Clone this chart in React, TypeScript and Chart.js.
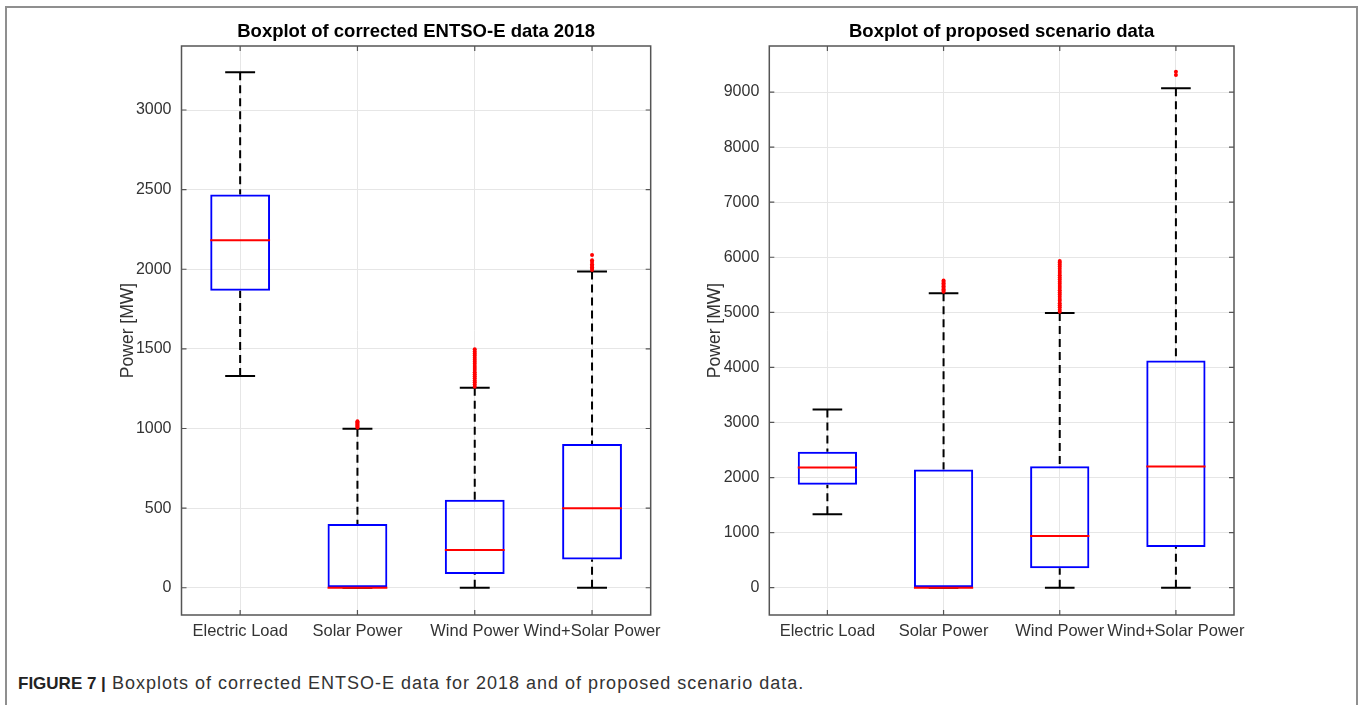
import React, { useEffect, useRef } from 'react';
import { Chart, registerables } from 'chart.js';

Chart.register(...registerables);

const FONT = "'Liberation Sans', Arial, Helvetica, sans-serif";

const categories = ['Electric Load', 'Solar Power', 'Wind Power', 'Wind+Solar Power'];

// ---- Left panel: corrected ENTSO-E data 2018 ----
const title2018 = 'Boxplot of corrected ENTSO-E data 2018';
const lower2018 = [1330, 0, 0, 0];
const q1_2018 = [1865, 0, 86, 178];
const median2018 = [2182, 0, 237, 499];
const q3_2018 = [2470, 400, 553, 902];
const upper2018 = [3237, 999, 1256, 1986];
const solarOutliers2018 = [1006, 1013, 1019, 1026, 1032, 1039, 1045];
const windOutliers2018 = [1263, 1276, 1290, 1302, 1315, 1329, 1341, 1354, 1368, 1380, 1393, 1406, 1420, 1432, 1445, 1459, 1471, 1484, 1497];
const windSolarOutliers2018 = [1996, 2004, 2013, 2022, 2031, 2046, 2057, 2090];
const yTicks2018 = [0, 500, 1000, 1500, 2000, 2500, 3000];
const yRange2018 = [-171, 3402];

// ---- Right panel: proposed scenario data ----
const titleScenario = 'Boxplot of proposed scenario data';
const lowerScenario = [1333, 0, 0, 0];
const q1Scenario = [1867, 0, 351, 740];
const medianScenario = [2182, 0, 940, 2200];
const q3Scenario = [2467, 2145, 2206, 4127];
const upperScenario = [3236, 5345, 4987, 9067];
const solarOutliersScenario = [5372, 5398, 5421, 5447, 5472, 5501, 5529, 5556, 5580];
const windOutliersScenario = [5012, 5048, 5091, 5127, 5166, 5208, 5244, 5283, 5322, 5361, 5402, 5440, 5478, 5519, 5557, 5596, 5634, 5675, 5713, 5752, 5790, 5831, 5868, 5905, 5930];
const windSolarOutliersScenario = [9310, 9370];
const yTicksScenario = [0, 1000, 2000, 3000, 4000, 5000, 6000, 7000, 8000, 9000];
const yRangeScenario = [-496, 9836];

type Stats = { lower: number[]; q1: number[]; median: number[]; q3: number[]; upper: number[] };

function makeBoxPlugin(stats: Stats) {
  return {
    id: 'boxExtras',
    beforeDatasetsDraw(chart: any) {
      const ctx = chart.ctx;
      const y = chart.scales.y;
      const meta = chart.getDatasetMeta(0);
      ctx.save();
      ctx.strokeStyle = '#000000';
      ctx.lineWidth = 2;
      meta.data.forEach((bar: any, i: number) => {
        const x = bar.x;
        const w = bar.width;
        const yq1 = y.getPixelForValue(stats.q1[i]);
        const yq3 = y.getPixelForValue(stats.q3[i]);
        const yLo = y.getPixelForValue(stats.lower[i]);
        const yUp = y.getPixelForValue(stats.upper[i]);
        ctx.setLineDash([8, 5]);
        if (stats.upper[i] > stats.q3[i]) {
          ctx.beginPath();
          ctx.moveTo(x, yUp);
          ctx.lineTo(x, yq3);
          ctx.stroke();
        }
        if (stats.lower[i] < stats.q1[i]) {
          ctx.beginPath();
          ctx.moveTo(x, yLo);
          ctx.lineTo(x, yq1);
          ctx.stroke();
        }
        ctx.setLineDash([]);
        ctx.beginPath();
        ctx.moveTo(x - w / 4, yUp);
        ctx.lineTo(x + w / 4, yUp);
        ctx.moveTo(x - w / 4, yLo);
        ctx.lineTo(x + w / 4, yLo);
        ctx.stroke();
      });
      ctx.restore();
    },
    afterDatasetsDraw(chart: any) {
      const ctx = chart.ctx;
      const y = chart.scales.y;
      const meta = chart.getDatasetMeta(0);
      ctx.save();
      ctx.strokeStyle = '#ff0000';
      ctx.lineWidth = 2;
      meta.data.forEach((bar: any, i: number) => {
        const ym = y.getPixelForValue(stats.median[i]);
        ctx.beginPath();
        ctx.moveTo(bar.x - bar.width / 2, ym);
        ctx.lineTo(bar.x + bar.width / 2, ym);
        ctx.stroke();
      });
      // axes box + inward ticks
      const a = chart.chartArea;
      ctx.strokeStyle = '#555555';
      ctx.lineWidth = 1.5;
      ctx.strokeRect(a.left, a.top, a.right - a.left, a.bottom - a.top);
      ctx.lineWidth = 1.2;
      ctx.beginPath();
      y.ticks.forEach((t: any) => {
        const py = y.getPixelForValue(t.value);
        ctx.moveTo(a.left, py);
        ctx.lineTo(a.left + 5, py);
        ctx.moveTo(a.right, py);
        ctx.lineTo(a.right - 5, py);
      });
      meta.data.forEach((bar: any) => {
        ctx.moveTo(bar.x, a.bottom);
        ctx.lineTo(bar.x, a.bottom - 5);
        ctx.moveTo(bar.x, a.top);
        ctx.lineTo(bar.x, a.top + 5);
      });
      ctx.stroke();
      ctx.restore();
    },
  };
}

type PanelProps = {
  title: string;
  stats: Stats;
  outliers: number[][];
  yTicks: number[];
  yRange: number[];
  left: number;
  yAxisWidth: number;
  padRight: number;
  titlePad: number;
};

function BoxPanel(props: PanelProps) {
  const ref = useRef<HTMLCanvasElement | null>(null);
  useEffect(() => {
    if (!ref.current) return;
    const { stats, outliers } = props;
    const outlierPoints: { x: string; y: number }[] = [];
    outliers.forEach((list, i) => list.forEach((v) => outlierPoints.push({ x: categories[i], y: v })));
    const chart = new Chart(ref.current, {
      type: 'bar',
      data: {
        labels: categories,
        datasets: [
          {
            type: 'bar',
            data: categories.map((_, i) => [stats.q1[i], stats.q3[i]]) as any,
            backgroundColor: 'rgba(0,0,0,0)',
            borderColor: '#0000ff',
            borderWidth: 2,
            borderSkipped: false,
            barPercentage: 0.51,
            categoryPercentage: 1,
            order: 2,
          } as any,
          {
            type: 'line',
            data: outlierPoints as any,
            showLine: false,
            pointRadius: 2,
            pointBackgroundColor: '#ff0000',
            pointBorderWidth: 0,
            pointBorderColor: '#ff0000',
            order: 1,
          } as any,
        ],
      },
      options: {
        responsive: false,
        maintainAspectRatio: false,
        animation: false,
        events: [],
        layout: { padding: { left: 0, right: props.padRight, top: 0, bottom: 0 } },
        plugins: {
          legend: { display: false },
          tooltip: { enabled: false },
          title: {
            display: true,
            text: props.title,
            color: '#000000',
            font: { family: FONT, size: 18.5, weight: 'bold' },
            padding: { top: 21, bottom: 2.8 },
            fullSize: false,
          },
        },
        scales: {
          x: {
            type: 'category',
            offset: true,
            grid: { offset: false, color: '#e6e6e6', drawTicks: false },
            border: { display: false },
            ticks: { color: '#333333', font: { family: FONT, size: 16.5 }, padding: 7, maxRotation: 0, autoSkip: false },
            afterFit: (s: any) => {
              s.height = 45;
            },
          },
          y: {
            type: 'linear',
            min: props.yRange[0],
            max: props.yRange[1],
            grid: { color: '#e6e6e6', drawTicks: false },
            border: { display: false },
            ticks: {
              color: '#333333',
              font: { family: FONT, size: 16 },
              padding: 10,
              callback: (v: any) => String(v),
            },
            afterBuildTicks: (s: any) => {
              s.ticks = props.yTicks.map((v) => ({ value: v }));
            },
            title: {
              display: true,
              text: 'Power [MW]',
              color: '#333333',
              font: { family: FONT, size: 17.5 },
              padding: { top: props.titlePad, bottom: 0 },
            },
            afterFit: (s: any) => {
              s.width = props.yAxisWidth;
            },
          },
        },
      } as any,
      plugins: [makeBoxPlugin(stats)],
    });
    return () => chart.destroy();
  }, []);
  return (
    <canvas
      ref={ref}
      width={570}
      height={660}
      style={{ position: 'absolute', left: props.left, top: 0, width: 570, height: 660 }}
    />
  );
}

export default function App() {
  return (
    <div style={{ position: 'fixed', left: 0, top: 0, width: 1362, height: 705, background: '#ffffff', overflow: 'hidden' }}>
      <div
        style={{
          position: 'absolute',
          left: 5,
          top: 6,
          width: 1349,
          height: 720,
          border: '2px solid #8f8f8f',
        }}
      />
      <BoxPanel
        title={title2018}
        stats={{ lower: lower2018, q1: q1_2018, median: median2018, q3: q3_2018, upper: upper2018 }}
        outliers={[[], solarOutliers2018, windOutliers2018, windSolarOutliers2018]}
        yTicks={yTicks2018}
        yRange={yRange2018}
        left={100}
        yAxisWidth={81.5}
        padRight={19}
        titlePad={18}
      />
      <BoxPanel
        title={titleScenario}
        stats={{ lower: lowerScenario, q1: q1Scenario, median: medianScenario, q3: q3Scenario, upper: upperScenario }}
        outliers={[[], solarOutliersScenario, windOutliersScenario, windSolarOutliersScenario]}
        yTicks={yTicksScenario}
        yRange={yRangeScenario}
        left={690}
        yAxisWidth={79.3}
        padRight={26}
        titlePad={15}
      />
      <div
        style={{
          position: 'absolute',
          left: 18,
          top: 673,
          fontFamily: FONT,
          fontSize: 17,
          color: '#333333',
          whiteSpace: 'nowrap',
          lineHeight: '20px',
        }}
      >
        <span style={{ fontWeight: 'bold', color: '#222222' }}>FIGURE 7 |</span>
        <span style={{ fontSize: 18, letterSpacing: '1px' }}> Boxplots of corrected ENTSO-E data for 2018 and of proposed scenario data.</span>
      </div>
    </div>
  );
}
